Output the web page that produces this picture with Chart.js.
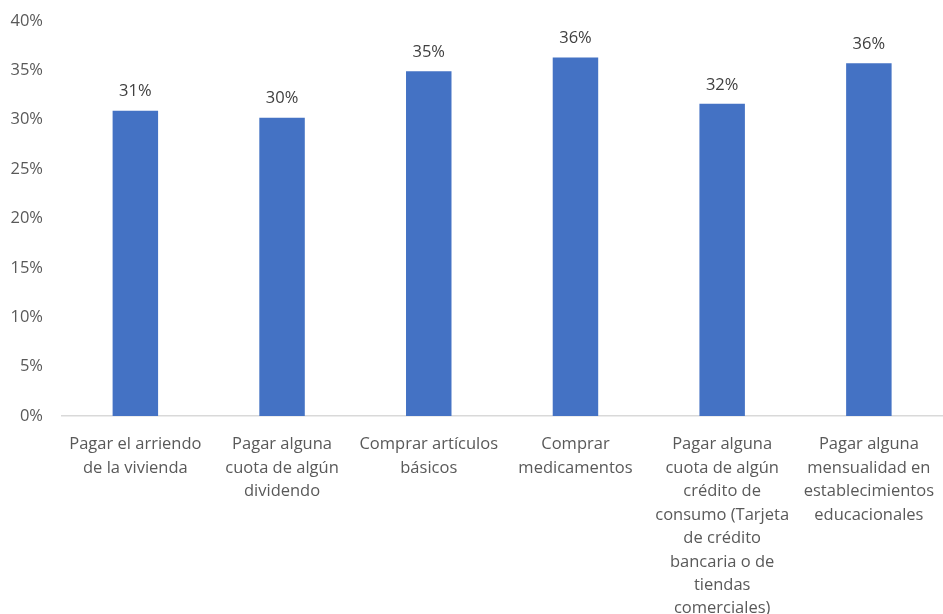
<!DOCTYPE html>
<html>
<head>
<meta charset="utf-8">
<script src="https://cdn.jsdelivr.net/npm/chart.js@4"></script>
<style>
  html, body { margin: 0; padding: 0; background: #fff; }
  #wrap { width: 943px; height: 614px; position: relative; }
</style>
</head>
<body>
<div id="wrap"><canvas id="chart"></canvas></div>
<script>
// Category labels, pre-wrapped one line per entry
const categories = [
    ["Pagar el arriendo", "de la vivienda"],
    ["Pagar alguna", "cuota de algún", "dividendo"],
    ["Comprar artículos", "básicos"],
    ["Comprar", "medicamentos"],
    ["Pagar alguna", "cuota de algún", "crédito de", "consumo (Tarjeta", "de crédito", "bancaria o de", "tiendas", "comerciales)"],
    ["Pagar alguna", "mensualidad en", "establecimientos", "educacionales"]
];

// Share of respondents (%)
const values = [30.9, 30.2, 34.9, 36.3, 31.6, 35.7];

const yTicks = [0, 5, 10, 15, 20, 25, 30, 35, 40];

const FONT = "'Open Sans', 'Noto Sans', sans-serif";

// Writes the rounded value above every bar
const valueLabels = {
    id: 'valueLabels',
    afterDatasetsDraw(chart) {
        const ctx = chart.ctx;
        const meta = chart.getDatasetMeta(0);
        ctx.save();
        ctx.font = "16.5px " + FONT;
        ctx.fillStyle = '#404040';
        ctx.textAlign = 'center';
        ctx.textBaseline = 'middle';
        meta.data.forEach((bar, i) => {
            ctx.fillText(Math.round(values[i]) + '%', bar.x, bar.y - 19);
        });
        ctx.restore();
    }
};

new Chart(document.getElementById('chart').getContext('2d'), {
    type: 'bar',
    data: {
        labels: categories,
        datasets: [{
            data: values,
            backgroundColor: '#4472C4',
            borderWidth: 0,
            barPercentage: 0.62,
            categoryPercentage: 0.5
        }]
    },
    options: {
        responsive: true,
        maintainAspectRatio: false,
        animation: false,
        layout: { padding: { top: 15, right: 0, left: 0, bottom: 0 } },
        plugins: {
            legend: { display: false },
            tooltip: { enabled: false }
        },
        scales: {
            y: {
                min: 0,
                max: 40,
                afterBuildTicks: s => { s.ticks = yTicks.map(v => ({ value: v })); },
                afterFit: s => { s.width = 62; },
                grid: { display: false },
                border: { display: false },
                ticks: {
                    padding: 11,
                    color: '#595959',
                    font: { family: FONT, size: 16.5 },
                    callback: v => v + '%'
                }
            },
            x: {
                afterFit: s => { s.height = 198; },
                grid: { display: false },
                border: { display: true, color: '#d9d9d9', width: 1.5 },
                ticks: {
                    padding: 9,
                    maxRotation: 0,
                    autoSkip: false,
                    color: '#595959',
                    font: { family: FONT, size: 16.5, lineHeight: 1.42 }
                }
            }
        }
    },
    plugins: [valueLabels]
});
</script>
</body>
</html>
